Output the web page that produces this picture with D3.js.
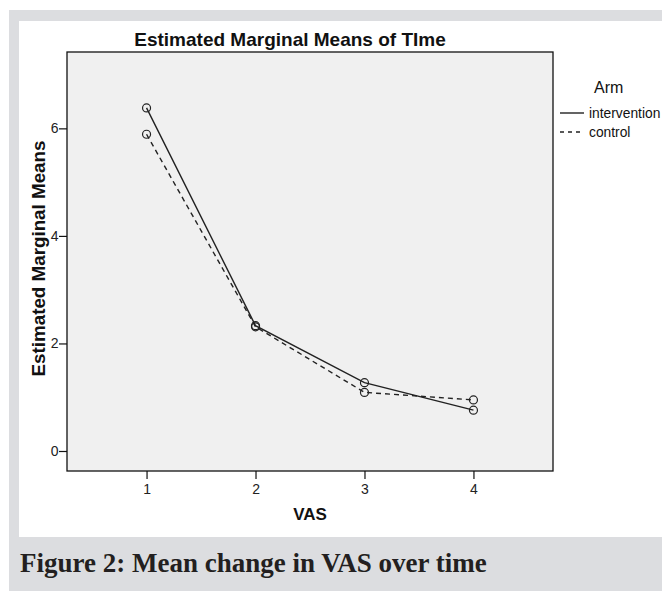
<!DOCTYPE html>
<html>
<head>
<meta charset="utf-8">
<script src="https://cdn.jsdelivr.net/npm/d3@7"></script>
<style>
  html, body { margin: 0; padding: 0; background: #ffffff; }
  svg { display: block; }
</style>
</head>
<body>
<script>
// ---- data ----
const timePoints = [1, 2, 3, 4];
const intervention = [6.38, 2.33, 1.27, 0.76];
const control = [5.89, 2.31, 1.09, 0.95];
const yTicks = [0, 2, 4, 6];
const seriesNames = ["intervention", "control"];

const W = 662, H = 591;
const SANS = "Liberation Sans, Arial, sans-serif";
const svg = d3.select("body").append("svg").attr("width", W).attr("height", H);

// frame
svg.append("rect").attr("x", 9).attr("y", 10).attr("width", W - 9).attr("height", H - 10).attr("fill", "#dcdde0");
svg.append("rect").attr("x", 19).attr("y", 21).attr("width", W - 19).attr("height", 537 - 21).attr("fill", "#ffffff");

const plot = { left: 67, right: 553, top: 52, bottom: 471 };
const x = d3.scaleLinear().domain([0.27, 4.73]).range([plot.left, plot.right]);
const y = d3.scaleLinear().domain([-0.372, 7.42]).range([plot.bottom, plot.top]);

svg.append("rect")
  .attr("x", plot.left).attr("y", plot.top)
  .attr("width", plot.right - plot.left).attr("height", plot.bottom - plot.top)
  .attr("fill", "#f0f0f0").attr("stroke", "#111").attr("stroke-width", 1.3);

// axes
const yAxis = d3.axisLeft(y).tickValues(yTicks).tickSize(8).tickPadding(0.5).tickFormat(d3.format("d"));
const gy = svg.append("g").attr("transform", `translate(${plot.left},0)`).call(yAxis);
gy.select(".domain").remove();
gy.selectAll("line").attr("stroke", "#111").attr("stroke-width", 1.2);
gy.selectAll("text").attr("font-family", SANS).attr("font-size", 14).attr("fill", "#222");

const xAxis = d3.axisBottom(x).tickValues(timePoints).tickSize(8).tickPadding(5).tickFormat(d3.format("d"));
const gx = svg.append("g").attr("transform", `translate(0,${plot.bottom})`).call(xAxis);
gx.select(".domain").remove();
gx.selectAll("line").attr("stroke", "#111").attr("stroke-width", 1.2);
gx.selectAll("text").attr("font-family", SANS).attr("font-size", 14).attr("fill", "#222");

// lines
const line = d3.line().x((d, i) => x(timePoints[i])).y(d => y(d));
const data = [intervention, control];
const dashes = [null, "5,4"];
data.forEach((vals, k) => {
  svg.append("path").datum(vals).attr("d", line)
    .attr("fill", "none").attr("stroke", "#222").attr("stroke-width", 1.4)
    .attr("stroke-dasharray", dashes[k]);
  svg.selectAll(null).data(vals).enter().append("circle")
    .attr("cx", (d, i) => x(timePoints[i])).attr("cy", d => y(d))
    .attr("r", 4).attr("fill", "none").attr("stroke", "#222").attr("stroke-width", 1.2);
});

// title
svg.append("text").attr("x", 290).attr("y", 46).attr("text-anchor", "middle")
  .attr("font-family", SANS).attr("font-weight", "bold")
  .attr("font-size", 19).attr("fill", "#111").text("Estimated Marginal Means of TIme");

// axis titles
svg.append("text").attr("transform", `translate(45,258.5) rotate(-90)`)
  .attr("text-anchor", "middle")
  .attr("font-family", SANS).attr("font-weight", "bold")
  .attr("font-size", 18.8).attr("fill", "#111").text("Estimated Marginal Means");
svg.append("text").attr("x", (plot.left + plot.right) / 2).attr("y", 520).attr("text-anchor", "middle")
  .attr("font-family", SANS).attr("font-weight", "bold")
  .attr("font-size", 17).attr("fill", "#111").text("VAS");

// legend
svg.append("text").attr("x", 594).attr("y", 93)
  .attr("font-family", SANS).attr("font-size", 16).attr("fill", "#111").text("Arm");
seriesNames.forEach((name, k) => {
  const ly = 113 + k * 19;
  svg.append("line").attr("x1", 560).attr("x2", 584).attr("y1", ly).attr("y2", ly)
    .attr("stroke", "#222").attr("stroke-width", 1.4).attr("stroke-dasharray", dashes[k] ? "4,4" : null);
  svg.append("text").attr("x", 589).attr("y", ly + 4.5)
    .attr("font-family", SANS).attr("font-size", 13.8).attr("fill", "#111").text(name);
});

// caption
svg.append("text").attr("x", 20).attr("y", 572)
  .attr("font-family", "Liberation Serif, Times New Roman, serif").attr("font-weight", "bold")
  .attr("font-size", 27).attr("fill", "#231f20").text("Figure 2: Mean change in VAS over time");
</script>
</body>
</html>
